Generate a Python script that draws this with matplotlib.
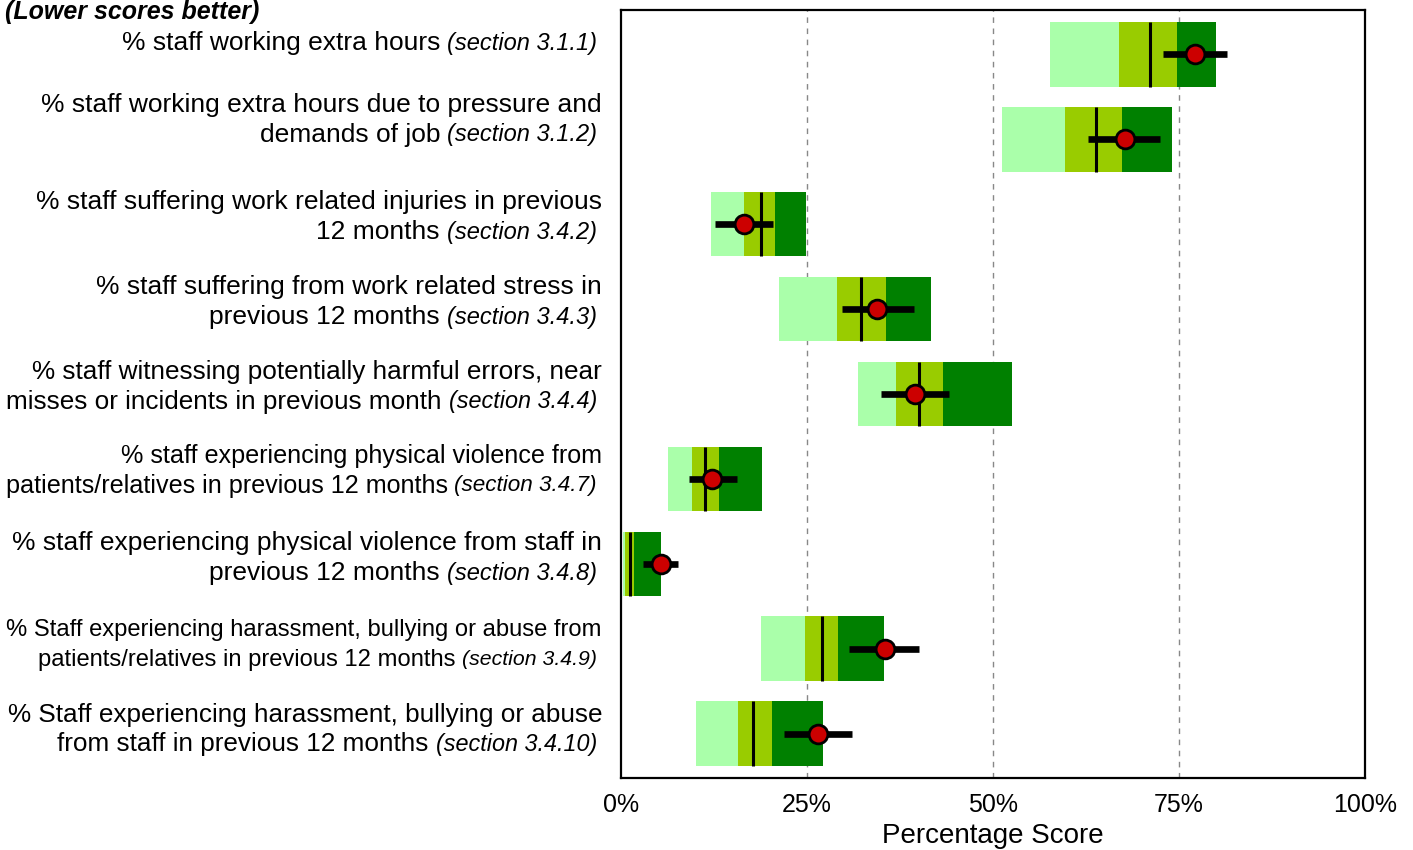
import matplotlib
matplotlib.use("Agg")
import matplotlib.pyplot as plt
from matplotlib.font_manager import FontProperties
import numpy as np

plt.rcParams['font.family'] = ['Liberation Sans', 'DejaVu Sans']

# survey indicators, top to bottom
label_lines = [
    ["% staff working extra hours"],
    ["% staff working extra hours due to pressure and", "demands of job"],
    ["% staff suffering work related injuries in previous", "12 months"],
    ["% staff suffering from work related stress in", "previous 12 months"],
    ["% staff witnessing potentially harmful errors, near", "misses or incidents in previous month"],
    ["% staff experiencing physical violence from", "patients/relatives in previous 12 months"],
    ["% staff experiencing physical violence from staff in", "previous 12 months"],
    ["% Staff experiencing harassment, bullying or abuse from", "patients/relatives in previous 12 months"],
    ["% Staff experiencing harassment, bullying or abuse", "from staff in previous 12 months"],
]
sections = ["(section 3.1.1)", "(section 3.1.2)", "(section 3.4.2)", "(section 3.4.3)",
            "(section 3.4.4)", "(section 3.4.7)", "(section 3.4.8)", "(section 3.4.9)",
            "(section 3.4.10)"]

# band edges (% score)
lowest = [57.7, 51.2, 12.1, 21.2, 31.9, 6.3, 0.3, 18.8, 10.1]
lower_mid = [66.9, 59.7, 16.5, 29.0, 37.0, 9.5, 0.6, 24.7, 15.7]
upper_mid = [74.7, 67.3, 20.7, 35.6, 43.3, 13.2, 1.7, 29.2, 20.3]
highest = [80.0, 74.1, 24.9, 41.6, 52.6, 19.0, 5.4, 35.3, 27.1]
median = [71.1, 63.9, 18.8, 32.2, 40.1, 11.3, 1.2, 27.0, 17.7]

# trust score with 95% confidence interval
score = [77.1, 67.7, 16.5, 34.4, 39.5, 12.2, 5.4, 35.5, 26.5]
ci_low = [72.9, 62.8, 12.7, 29.7, 35.0, 9.1, 3.0, 30.7, 21.9]
ci_high = [81.4, 72.4, 20.4, 39.4, 44.1, 15.6, 7.6, 40.0, 31.0]

xticks = [0, 25, 50, 75, 100]
xticklabels = ["0%", "25%", "50%", "75%", "100%"]

# vertical nudge of each label block (points)
label_nudge = [8, 14, 5, 5, 5, 6, 4, 3, 3]

fig = plt.figure(figsize=(14.13, 8.5), dpi=100)
ax = fig.add_axes([621 / 1413, 1 - 778 / 850, 744 / 1413, 768 / 850])

n = len(score)
y = np.arange(n)
h = 0.76

lowest = np.array(lowest)
lower_mid = np.array(lower_mid)
upper_mid = np.array(upper_mid)
highest = np.array(highest)

ax.barh(y, lower_mid - lowest, left=lowest, height=h, color='#AAFFAA', zorder=2)
ax.barh(y, upper_mid - lower_mid, left=lower_mid, height=h, color='#99CC00', zorder=2)
ax.barh(y, highest - upper_mid, left=upper_mid, height=h, color='#008000', zorder=2)
ax.vlines(median, y - h / 2, y + h / 2, colors='black', linewidth=2.2, zorder=3)
ax.hlines(y, ci_low, ci_high, colors='black', linewidth=4.8, zorder=4)
ax.plot(score, y, 'o', markersize=13.5, markerfacecolor='#CC0000',
        markeredgecolor='black', markeredgewidth=2, zorder=5)

for gx in [25, 50, 75]:
    ax.axvline(gx, color='#888888', linewidth=1, linestyle=(0, (4, 4)), zorder=1)

ax.set_xlim(0, 100)
ax.set_ylim(n - 0.5 + 0.022, -0.5 - 0.022)
ax.set_yticks([])
ax.set_xticks(xticks)
ax.set_xticklabels(xticklabels, fontsize=18)
ax.tick_params(axis='x', length=0, pad=11)
ax.set_xlabel("Percentage Score", fontsize=20, labelpad=4)
for sp in ax.spines.values():
    sp.set_linewidth(1.6)
    sp.set_color('black')

fig.text(5 / 1413, 1.0, "(Lower scores better)", fontsize=18,
         fontweight='bold', fontstyle='italic', ha='left', va='top')

# row labels: plain text with the section reference in italics
fig.canvas.draw()
renderer = fig.canvas.get_renderer()


def text_width(s, size, style='normal'):
    fp = FontProperties(family=['Liberation Sans', 'DejaVu Sans'], size=size, style=style)
    w, _, _ = renderer.get_text_width_height_descent(s, fp, ismath=False)
    return w


x_main_px, x_sec_px, left_px = 602, 597, 6
gap_px = 7
base_fs, base_sec_fs = 19, 17
line_gap = 21.5  # points between label lines
for i in range(n):
    lines = label_lines[i]
    k = len(lines)
    # shrink the whole label if it would run off the left edge
    need = text_width(lines[-1], base_fs) + gap_px + text_width(sections[i], base_sec_fs, 'italic')
    factor = min(1.0, (x_sec_px - left_px) / need)
    for line in lines[:-1]:
        factor = min(factor, (x_main_px - left_px) / text_width(line, base_fs))
    fs = base_fs * factor
    sfs = base_sec_fs * factor
    for j, line in enumerate(lines):
        dy = label_nudge[i] + ((k - 1) / 2 - j) * line_gap
        if j < k - 1:
            ax.annotate(line, xy=(x_main_px / 1413, i), xycoords=('figure fraction', 'data'),
                        xytext=(0, dy), textcoords='offset points',
                        ha='right', va='center', fontsize=fs, annotation_clip=False)
        else:
            ax.annotate(sections[i], xy=(x_sec_px / 1413, i), xycoords=('figure fraction', 'data'),
                        xytext=(0, dy), textcoords='offset points',
                        ha='right', va='center', fontsize=sfs, fontstyle='italic',
                        annotation_clip=False)
            w = (text_width(sections[i], sfs, 'italic') + gap_px) * 72 / fig.dpi
            ax.annotate(line, xy=(x_sec_px / 1413, i), xycoords=('figure fraction', 'data'),
                        xytext=(-w, dy), textcoords='offset points',
                        ha='right', va='center', fontsize=fs, annotation_clip=False)

fig.savefig("out.png", dpi=100)
